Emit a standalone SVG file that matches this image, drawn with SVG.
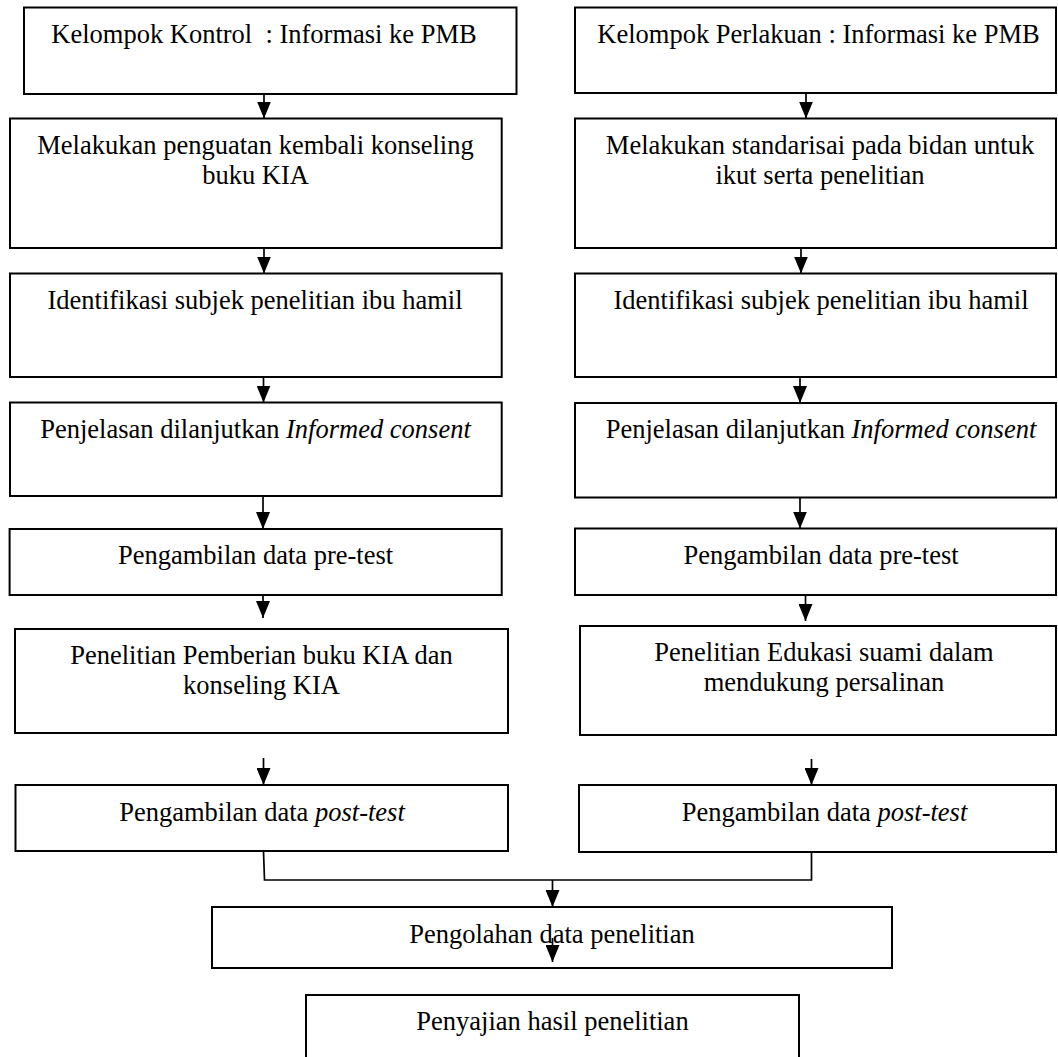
<svg xmlns="http://www.w3.org/2000/svg" width="1058" height="1057" viewBox="0 0 1058 1057">
<style>
.box{fill:#fff;stroke:#000;stroke-width:2}
.lbl{font-family:"Liberation Serif","Times New Roman",serif;font-size:26.5px;fill:#000;text-anchor:middle}
.it{font-style:italic}
.con{fill:none;stroke:#000;stroke-width:1.7}
</style>
<defs>
<marker id="ah" viewBox="0 0 17 14" refX="17" refY="7" markerWidth="17" markerHeight="14" markerUnits="userSpaceOnUse" orient="auto">
<path d="M0,0 L17,7 L0,14 z" fill="#000"/>
</marker>
</defs>
<rect width="1058" height="1057" fill="#fff"/>

<g id="L1"><rect class="box" x="24" y="7.5" width="492.5" height="86.5"/><text class="lbl" x="264" y="42.5" xml:space="preserve">Kelompok Kontrol  : Informasi ke PMB</text></g>
<g id="L2"><rect class="box" x="10" y="118.5" width="491.7" height="129.5"/><text class="lbl" x="255.5" y="153.5">Melakukan penguatan kembali konseling</text><text class="lbl" x="255.5" y="183.5">buku KIA</text></g>
<g id="L3"><rect class="box" x="10" y="273.5" width="491.7" height="103.5"/><text class="lbl" x="255" y="308.5">Identifikasi subjek penelitian ibu hamil</text></g>
<g id="L4"><rect class="box" x="10" y="402.5" width="491.7" height="93.5"/><text class="lbl" x="255.5" y="437.5">Penjelasan dilanjutkan <tspan class="it">Informed consent</tspan></text></g>
<g id="L5"><rect class="box" x="9.6" y="529" width="492.1" height="66"/><text class="lbl" x="255.5" y="564">Pengambilan data pre-test</text></g>
<g id="L6"><rect class="box" x="15" y="629" width="493" height="104"/><text class="lbl" x="261.5" y="663.5">Penelitian Pemberian buku KIA dan</text><text class="lbl" x="261.5" y="693.5">konseling KIA</text></g>
<g id="L7"><rect class="box" x="15.5" y="785" width="492.5" height="66"/><text class="lbl" x="262" y="821">Pengambilan data <tspan class="it">post-test</tspan></text></g>

<g id="R1"><rect class="box" x="575" y="7.5" width="481" height="85.5"/><text class="lbl" x="818.5" y="42.5">Kelompok Perlakuan : Informasi ke PMB</text></g>
<g id="R2"><rect class="box" x="575" y="118.5" width="481" height="129.5"/><text class="lbl" x="820" y="153.5">Melakukan standarisai pada bidan untuk</text><text class="lbl" x="820" y="183.5">ikut serta penelitian</text></g>
<g id="R3"><rect class="box" x="575" y="273.5" width="481" height="103.5"/><text class="lbl" x="821" y="308.5">Identifikasi subjek penelitian ibu hamil</text></g>
<g id="R4"><rect class="box" x="575" y="403" width="481" height="94.5"/><text class="lbl" x="821" y="438">Penjelasan dilanjutkan <tspan class="it">Informed consent</tspan></text></g>
<g id="R5"><rect class="box" x="575" y="528.5" width="481" height="66.5"/><text class="lbl" x="821" y="563.5">Pengambilan data pre-test</text></g>
<g id="R6"><rect class="box" x="580" y="626" width="476" height="109"/><text class="lbl" x="824" y="661">Penelitian Edukasi suami dalam</text><text class="lbl" x="824" y="691">mendukung persalinan</text></g>
<g id="R7"><rect class="box" x="579" y="785" width="477" height="67"/><text class="lbl" x="824.5" y="821">Pengambilan data <tspan class="it">post-test</tspan></text></g>

<g id="P"><rect class="box" x="212" y="907" width="680" height="61"/><text class="lbl" x="552" y="942.5">Pengolahan data penelitian</text></g>
<g id="Q"><rect class="box" x="306" y="995" width="493" height="80"/><text class="lbl" x="552.5" y="1030">Penyajian hasil penelitian</text></g>

<g id="connectors">
<line class="con" x1="264" y1="94" x2="264" y2="118.5" marker-end="url(#ah)"/>
<line class="con" x1="264" y1="248" x2="264" y2="273.5" marker-end="url(#ah)"/>
<line class="con" x1="263.5" y1="377" x2="263.5" y2="402.5" marker-end="url(#ah)"/>
<line class="con" x1="263" y1="496" x2="263" y2="529" marker-end="url(#ah)"/>
<line class="con" x1="263" y1="595" x2="263" y2="618" marker-end="url(#ah)"/>
<line class="con" x1="263.5" y1="758" x2="263.5" y2="785" marker-end="url(#ah)"/>

<line class="con" x1="806" y1="93" x2="806" y2="118.5" marker-end="url(#ah)"/>
<line class="con" x1="801" y1="248" x2="801" y2="273.5" marker-end="url(#ah)"/>
<line class="con" x1="800" y1="377" x2="800" y2="403" marker-end="url(#ah)"/>
<line class="con" x1="800" y1="497.5" x2="800" y2="528.5" marker-end="url(#ah)"/>
<line class="con" x1="805.5" y1="595" x2="805.5" y2="621" marker-end="url(#ah)"/>
<line class="con" x1="811.5" y1="759" x2="811.5" y2="785" marker-end="url(#ah)"/>

<polyline class="con" points="263.5,851 264.5,880 811.5,880 811.5,852"/>
<line class="con" x1="552.5" y1="880" x2="552.5" y2="907" marker-end="url(#ah)"/>
<line class="con" x1="552.5" y1="938" x2="552.5" y2="962" marker-end="url(#ah)"/>
</g>
</svg>
